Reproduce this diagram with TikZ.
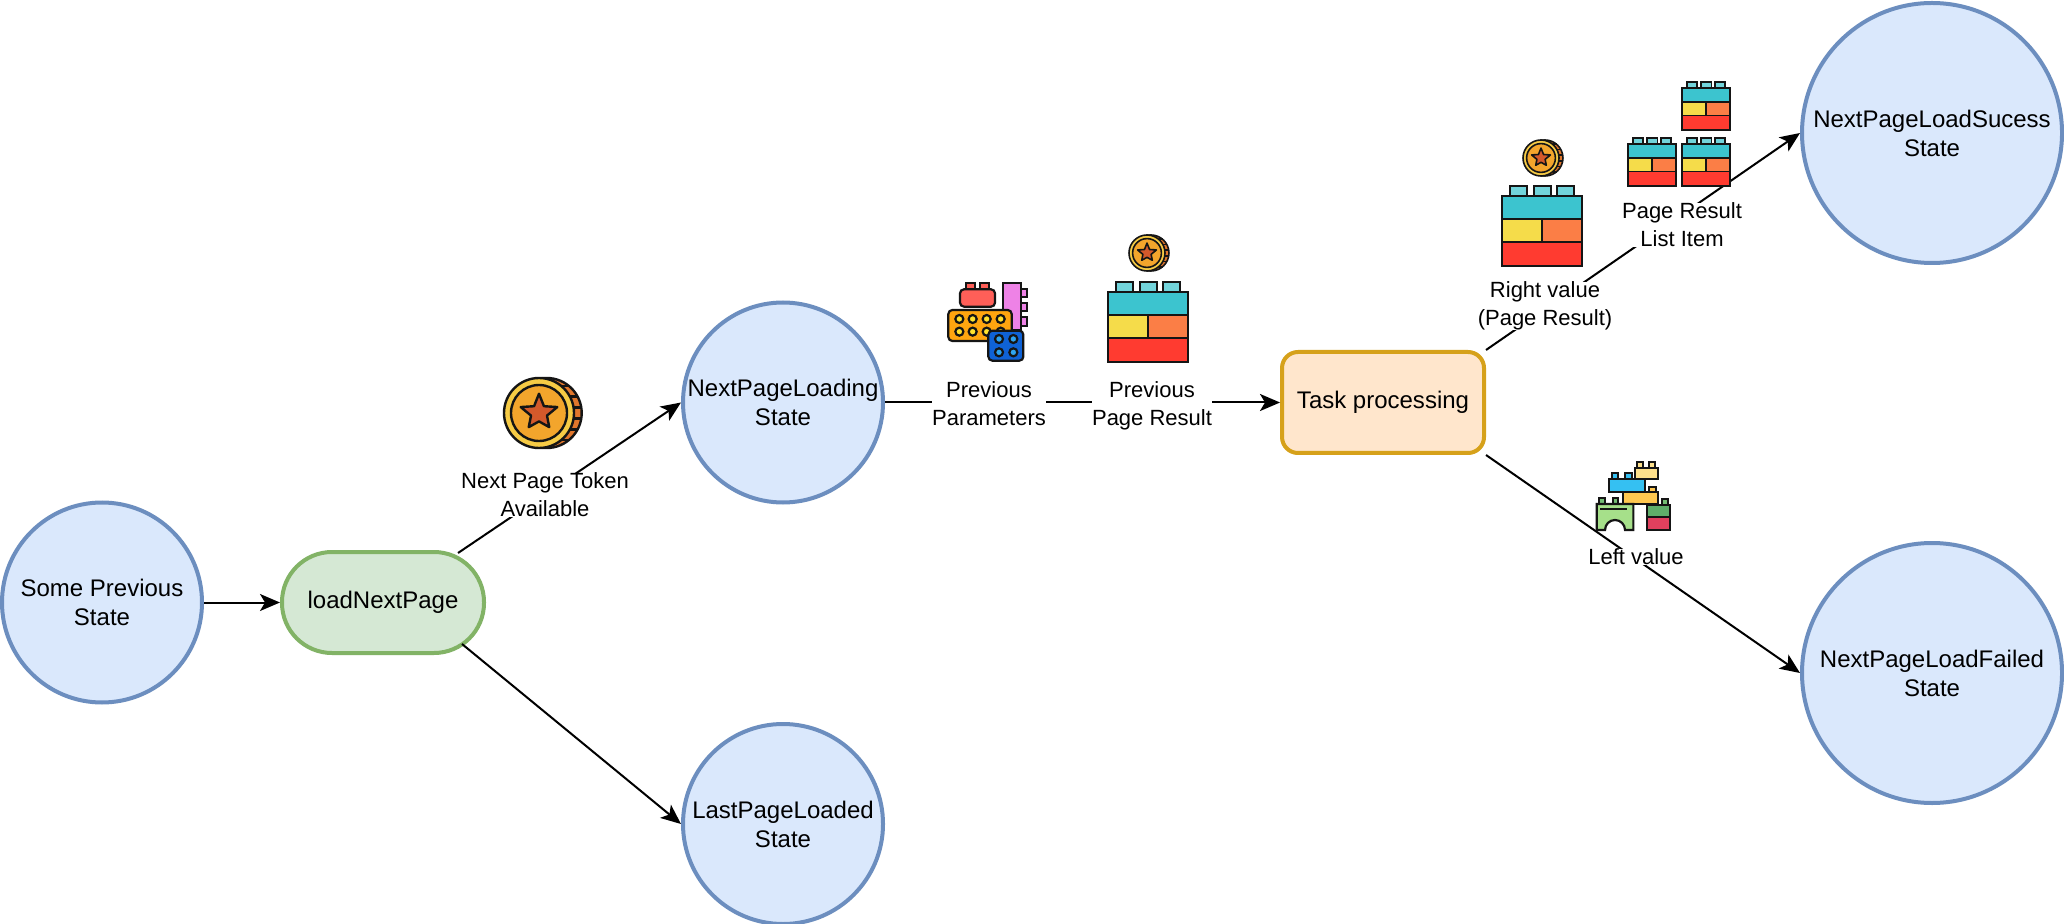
\documentclass[tikz,border=0pt]{standalone}
\usepackage{fontspec}
\setmainfont{Liberation Sans}
\usetikzlibrary{arrows.meta}
\definecolor{stateFill}{HTML}{DAE8FC}
\definecolor{stateLine}{HTML}{6C8EBF}
\definecolor{actFill}{HTML}{D5E8D4}
\definecolor{actLine}{HTML}{82B366}
\definecolor{taskFill}{HTML}{FFE6CC}
\definecolor{taskLine}{HTML}{D6A11A}
\definecolor{ink}{HTML}{151515}
\definecolor{coinBack}{HTML}{E0762C}
\definecolor{coinRim}{HTML}{F6CB45}
\definecolor{coinFace}{HTML}{F3A52C}
\definecolor{coinStar}{HTML}{D4592B}
\definecolor{brickStud}{HTML}{72D4DB}
\definecolor{brickTeal}{HTML}{3CC4CF}
\definecolor{brickYellow}{HTML}{F5DC4A}
\definecolor{brickOrange}{HTML}{FB7E46}
\definecolor{brickRed}{HTML}{FF3B30}
\definecolor{partRed}{HTML}{FF5F58}
\definecolor{partOrange}{HTML}{FFA50F}
\definecolor{partPink}{HTML}{EE82E6}
\definecolor{partBlue}{HTML}{0F62D6}
\definecolor{partDot}{HTML}{2FA4F0}
\definecolor{partYellow}{HTML}{FFE22E}
\definecolor{castleTan}{HTML}{FDE08B}
\definecolor{castleSky}{HTML}{35C0F2}
\definecolor{castleGold}{HTML}{FFC850}
\definecolor{castleLime}{HTML}{A6E08A}
\definecolor{castleGreen}{HTML}{5FAE6A}
\definecolor{castleRose}{HTML}{E0405E}
\tikzset{
  statenode/.style={circle,draw=stateLine,fill=stateFill,line width=2pt,minimum size=100pt,inner sep=0pt,align=center,font=\fontsize{12}{14.5}\selectfont},
  bigstate/.style={statenode,minimum size=130pt},
  actnode/.style={rounded corners=25pt,draw=actLine,fill=actFill,line width=2pt,minimum width=101pt,minimum height=50.5pt,inner sep=0pt,font=\fontsize{12}{14.5}\selectfont},
  tasknode/.style={rounded corners=8pt,draw=taskLine,fill=taskFill,line width=2pt,minimum width=101pt,minimum height=50.5pt,inner sep=0pt,font=\fontsize{12}{14.5}\selectfont},
  conn/.style={line width=1pt,black,-{Stealth[length=10pt,width=8.5pt,inset=2.5pt]}},
  edgelabel/.style={fill=white,inner sep=0pt,align=center,font=\fontsize{11}{14}\selectfont},
  pics/coin/.style={code={
    \draw[ink,fill=coinBack] (.22,0) circle (1);
    \foreach \a in {-50,-28,-9,9,28,50}{\draw[ink] (\a:1) -- ++(.22,0);}
    \draw[ink,fill=coinRim] (0,0) circle (1);
    \draw[ink,fill=coinFace] (0,0) circle (.8);
    \draw[ink,fill=coinStar,line join=round] (270:.55)--(306:.24)--(342:.55)--(18:.24)--(54:.5)--(90:.24)--(126:.5)--(162:.24)--(198:.55)--(234:.24)--cycle;
  }},
  pics/brick/.style={code={
    \foreach \sx in {-32,-8,15}{\draw[ink,fill=brickStud] (\sx,0) rectangle ++(17,-10);}
    \draw[ink,fill=brickRed] (-40,46) rectangle (40,70);
    \draw[ink,fill=brickYellow] (-40,23) rectangle (0,46);
    \draw[ink,fill=brickOrange] (0,23) rectangle (40,46);
    \draw[ink,fill=brickTeal] (-40,0) rectangle (40,23);
  }},
  pics/parts/.style={code={
    \begin{scope}[ink,line width=1.1pt]
    \draw[fill=partRed] (108,178) rectangle (135,160) (150,178) rectangle (178,160);
    \draw[fill=partRed,rounded corners=2pt] (90,178) rectangle (195,230);
    \draw[fill=partPink] (272,178) rectangle (290,200) (272,220) rectangle (290,242) (272,262) rectangle (290,288);
    \draw[fill=partPink] (220,158) rectangle (272,300);
    \draw[fill=partOrange,rounded corners=2pt] (55,240) rectangle (245,333);
    \foreach \px in {88,128,170,212}\foreach \py in {267,305}{\draw[fill=partYellow] (\px,\py) circle (12);}
    \draw[fill=partBlue,rounded corners=2pt] (175,302) rectangle (280,392);
    \foreach \px in {207,250}\foreach \py in {327,367}{\draw[fill=partDot] (\px,\py) circle (12);}
    \end{scope}
  }},
  pics/castle/.style={code={
    \begin{scope}[ink,line width=1.1pt]
    \draw[fill=castleTan] (202,85) rectangle (218,65) (238,85) rectangle (255,65);
    \draw[fill=castleTan] (195,85) rectangle (265,118);
    \draw[fill=castleSky] (125,118) rectangle (145,100) (165,118) rectangle (185,100);
    \draw[fill=castleGold] (238,157) rectangle (258,140);
    \draw[fill=castleSky] (118,118) rectangle (225,157);
    \draw[fill=castleGold] (160,157) rectangle (265,192);
    \draw[fill=castleGreen!70!castleLime] (88,192) rectangle (105,175) (128,192) rectangle (145,175) (275,195) rectangle (295,178);
    \draw[fill=castleLime] (80,192)--(190,192)--(190,270)--(165,270) arc[start angle=0,end angle=-180,radius=30]--(80,270)--cycle;
    \draw (90,207)--(170,207);
    \draw[fill=castleGreen] (232,195) rectangle (300,232);
    \draw[fill=castleRose] (232,232) rectangle (300,270);
    \end{scope}
  }}
}
\begin{document}
\begin{tikzpicture}[x=0.5pt,y=-0.5pt]
\useasboundingbox (0,0) rectangle (2064,924);
\fill[white] (0,0) rectangle (2064,924);
% states
\node[statenode] (prev) at (102,602.5) {Some Previous\\State};
\node[actnode] (load) at (383,602.5) {loadNextPage};
\node[statenode] (loading) at (783,402.5) {NextPageLoading\\State};
\node[statenode] (last) at (783,824) {LastPageLoaded\\State};
\node[tasknode] (task) at (1383,402.5) {Task processing};
\node[bigstate] (success) at (1932,133) {NextPageLoadSucess\\State};
\node[bigstate] (failed) at (1932,673) {NextPageLoadFailed\\State};
\coordinate (loadUp) at (458,553);
\coordinate (loadDown) at (462,644);
% connectors
\draw[conn] (prev.east) -- (load.west);
\draw[conn] (loadUp) -- (loading.west);
\draw[conn] (loadDown) -- (last.west);
\draw[conn] (loading.east) -- (task.west);
\draw[conn] (task.north east) -- (success.west);
\draw[conn] (task.south east) -- (failed.west);
% labels
\node[edgelabel] (lbToken) at (545,495) {Next Page Token\\Available};
\node[edgelabel] (lbParams) at (989,404) {Previous\\Parameters};
\node[edgelabel] (lbResult) at (1152,406) {Previous\\Page Result};
\node[edgelabel] (lbRight) at (1545,306) {Right value\\(Page Result)};
\node[edgelabel] (lbItem) at (1682,225) {Page Result\\List Item};
\node[edgelabel] (lbLeft) at (1636,557) {Left value};
% icons
\pic[scale=35,line width=1.2pt] at (539,413) {coin};
\pic[scale=1/3] at (930,230) {parts};
\pic[scale=18,line width=.8pt] at (1147,253) {coin};
\pic[line width=1.2pt] at (1148,292) {brick};
\pic[scale=18,line width=.8pt] at (1541,158) {coin};
\pic[line width=1.2pt] at (1542,196) {brick};
\pic[scale=.6,line width=.9pt] at (1706,88) {brick};
\pic[scale=.6,line width=.9pt] at (1652,144) {brick};
\pic[scale=.6,line width=.9pt] at (1706,144) {brick};
\pic[scale=1/3] at (1570,440) {castle};
\end{tikzpicture}
\end{document}
